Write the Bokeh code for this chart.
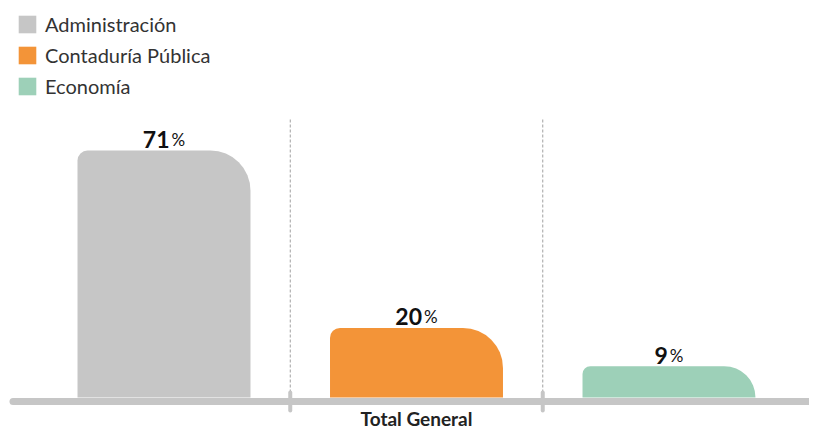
from bokeh.plotting import figure
from bokeh.models import Range1d, Legend, LegendItem, ColumnDataSource
from bokeh.core.properties import value
from bokeh.embed import file_html
from bokeh.resources import INLINE

# ---- data ----
categories = ["Administración", "Contaduría Pública", "Economía"]
percent = [71, 20, 9]
colors = ["#c6c6c6", "#f39438", "#9dd0b8"]
group_label = "Total General"

# ---- layout / style ----
W, H = 809, 430
GRAY = "#c6c6c6"
FONT = "Lato"
PX_X = 252.5          # pixels per category
PX_Y = 3.479          # pixels per percent point
X0_PX = 163.5         # pixel position of first category centre
Y0_PX = 397           # pixel position of value 0 (from top)
BAR_W = 0.685
x_start = -X0_PX / PX_X
x_end = (W - X0_PX) / PX_X
y_start = -(H - Y0_PX) / PX_Y
y_end = Y0_PX / PX_Y
BASE_Y = -4 / PX_Y            # baseline centre, 4px below zero
TICK = 9 / PX_Y               # divider tick half-length
DIVIDER_TOP = (Y0_PX - 117) / PX_Y
LINE_X0 = x_start + 12.5 / PX_X

xs = list(range(len(categories)))
dividers = [i + 0.5 for i in xs[:-1]]

n_size, p_size = 23, 17
n_digit_w = 0.58 * n_size
pct_w = 0.8 * p_size
gap = 2
num_off, pct_off = [], []
for v in percent:
    nw = len(str(v)) * n_digit_w
    total = nw + gap + pct_w
    num_off.append(-total / 2 + nw)
    pct_off.append(-total / 2 + nw + gap)

src = ColumnDataSource(dict(
    x=xs, top=percent, color=colors, cat=categories,
    num=[str(v) for v in percent], pct=["%"] * len(percent),
    num_off=num_off, pct_off=pct_off,
))

p = figure(width=W, height=H, output_backend="svg", toolbar_location=None,
           x_range=Range1d(x_start, x_end), y_range=Range1d(y_start, y_end),
           min_border_left=0, min_border_right=0, min_border_top=0,
           min_border_bottom=0, x_axis_location=None, y_axis_location=None)
p.outline_line_color = None
p.xgrid.visible = False
p.ygrid.visible = False
p.background_fill_color = "white"
p.border_fill_color = "white"

# dashed dividers
p.segment(x0=dividers, y0=[0] * len(dividers), x1=dividers,
          y1=[DIVIDER_TOP] * len(dividers),
          line_color="#a0a0a0", line_width=1, line_dash="3 2")

# bars
r = p.vbar(x="x", top="top", bottom=0, width=BAR_W, source=src,
           fill_color="color", line_color=None, border_radius=(10, 40, 0, 0))

# baseline
p.segment(x0=[LINE_X0], y0=[BASE_Y], x1=[x_end + 1], y1=[BASE_Y],
          line_color=GRAY, line_width=7, line_cap="round")
# divider ticks on baseline
p.segment(x0=dividers, y0=[BASE_Y - TICK] * len(dividers), x1=dividers,
          y1=[BASE_Y + TICK] * len(dividers),
          line_color=GRAY, line_width=4, line_cap="round")

# category group label
p.text(x=[sum(xs) / len(xs)], y=[BASE_Y], text=[group_label], y_offset=17,
       text_align="center", text_baseline="middle",
       text_font=value(FONT), text_font_style="bold",
       text_font_size="19px", text_color="#222222")

# value labels
p.text(x="x", y="top", text="num", source=src, x_offset="num_off", y_offset=-11,
       text_align="right", text_baseline="alphabetic",
       text_font=value(FONT), text_font_style="bold",
       text_font_size=f"{n_size}px", text_color="#111111")
p.text(x="x", y="top", text="pct", source=src, x_offset="pct_off", y_offset=-11,
       text_align="left", text_baseline="alphabetic",
       text_font=value(FONT), text_font_style="normal",
       text_font_size=f"{p_size}px", text_color="#111111")

# legend
items = [LegendItem(label=c, renderers=[r], index=i) for i, c in enumerate(categories)]
legend = Legend(items=items, location=(16, 332), margin=0, padding=0,
                glyph_width=22, glyph_height=22, label_height=24,
                label_standoff=7, spacing=7,
                label_text_font=FONT, label_text_font_size="20px",
                label_text_color="#333333",
                border_line_alpha=0, background_fill_alpha=0)
p.add_layout(legend, "center")

open("out.html", "w").write(file_html(p, INLINE))
